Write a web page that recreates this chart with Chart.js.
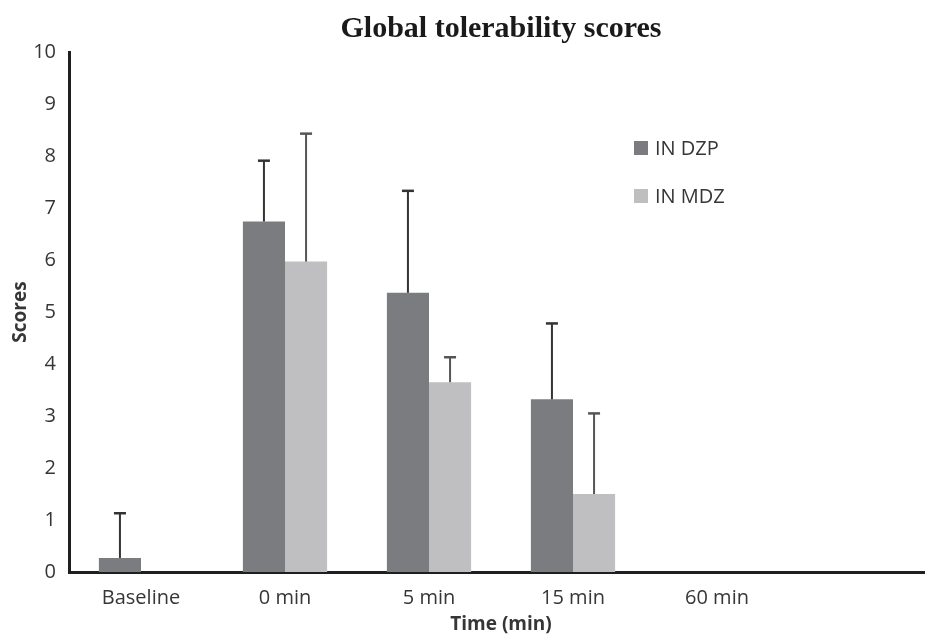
<!DOCTYPE html>
<html>
<head>
<meta charset="utf-8">
<script src="https://cdn.jsdelivr.net/npm/chart.js@4/dist/chart.umd.min.js"></script>
<style>
  html, body { margin: 0; padding: 0; background: #fff; overflow: hidden; }
</style>
</head>
<body>
<canvas id="scores" width="935" height="638"></canvas>
<script>
// time points (last slot left empty, as in the original sheet)
const timePoints = ['Baseline', '0 min', '5 min', '15 min', '60 min', ''];
const seriesNames = ['IN DZP', 'IN MDZ'];

// mean scores
const dzpMeans = [0.27, 6.74, 5.37, 3.32, 0, 0];
const mdzMeans = [0, 5.97, 3.65, 1.50, 0, 0];

// standard deviations (only the upper whisker is drawn)
const dzpSd = [0.86, 1.17, 1.96, 1.46, 0, 0];
const mdzSd = [0, 2.46, 0.48, 1.55, 0, 0];

const yTicks = [0, 1, 2, 3, 4, 5, 6, 7, 8, 9, 10];

const DZP_COLOR = '#7b7c80';
const MDZ_COLOR = '#bfbfc1';
const TEXT_COLOR = '#363636';

// upward error whiskers with a flat cap
const errorBars = {
  id: 'errorBars',
  afterDatasetsDraw(chart) {
    const ctx = chart.ctx;
    const y = chart.scales.y;
    chart.data.datasets.forEach((ds, i) => {
      const meta = chart.getDatasetMeta(i);
      meta.data.forEach((bar, j) => {
        const sd = ds.sd[j];
        if (!sd) return;
        const top = y.getPixelForValue(ds.data[j] + sd);
        ctx.save();
        ctx.strokeStyle = i === 0 ? '#333333' : '#555555';
        ctx.lineWidth = 2;
        ctx.beginPath();
        ctx.moveTo(bar.x, bar.y);
        ctx.lineTo(bar.x, top);
        ctx.stroke();
        ctx.lineWidth = 2.5;
        ctx.beginPath();
        ctx.moveTo(bar.x - 6, top);
        ctx.lineTo(bar.x + 6, top);
        ctx.stroke();
        ctx.restore();
      });
    });
  }
};

// legend sitting inside the plot, upper right
const innerLegend = {
  id: 'innerLegend',
  afterDraw(chart) {
    const ctx = chart.ctx;
    const area = chart.chartArea;
    const x0 = area.left + 565;
    const rows = [148, 196];
    ctx.save();
    ctx.font = '20px "Open Sans"';
    ctx.textBaseline = 'middle';
    chart.data.datasets.forEach((ds, i) => {
      const cy = rows[i];
      ctx.fillStyle = ds.backgroundColor;
      ctx.fillRect(x0, cy - 7, 14, 14);
      ctx.fillStyle = TEXT_COLOR;
      ctx.fillText(ds.label, x0 + 21, cy + 1);
    });
    ctx.restore();
  }
};

new Chart(document.getElementById('scores'), {
  type: 'bar',
  data: {
    labels: timePoints,
    datasets: [
      { label: seriesNames[0], data: dzpMeans, sd: dzpSd, backgroundColor: DZP_COLOR },
      { label: seriesNames[1], data: mdzMeans, sd: mdzSd, backgroundColor: MDZ_COLOR }
    ]
  },
  options: {
    responsive: false,
    animation: false,
    categoryPercentage: 0.585,
    barPercentage: 1,
    layout: { padding: { left: 0, right: 2, top: 0, bottom: 0 } },
    plugins: {
      legend: { display: false },
      tooltip: { enabled: false },
      title: {
        display: true,
        fullSize: false,
        text: 'Global tolerability scores',
        color: '#1a1a1a',
        font: { family: '"Liberation Serif", serif', size: 30, weight: 'bold' },
        padding: { top: 11, bottom: 5 }
      }
    },
    scales: {
      x: {
        grid: { display: false, drawTicks: false },
        border: { display: true, color: '#1f1f1f', width: 3 },
        ticks: {
          color: TEXT_COLOR,
          padding: 14,
          maxRotation: 0,
          font: { family: '"Open Sans"', size: 20 }
        },
        title: {
          display: true,
          text: 'Time (min)',
          color: TEXT_COLOR,
          padding: { top: 0, bottom: 2 },
          font: { family: '"Open Sans"', size: 19, weight: 'bold' }
        },
        afterFit(scale) { scale.height = 66; }
      },
      y: {
        min: 0,
        max: 10,
        grid: { display: false, drawTicks: false },
        border: { display: true, color: '#1f1f1f', width: 3 },
        afterBuildTicks(scale) { scale.ticks = yTicks.map(v => ({ value: v })); },
        ticks: {
          color: TEXT_COLOR,
          padding: 13,
          font: { family: '"Open Sans"', size: 20 }
        },
        title: {
          display: true,
          text: 'Scores',
          color: TEXT_COLOR,
          padding: { top: 9, bottom: 0 },
          font: { family: '"Open Sans"', size: 19, weight: 'bold' }
        },
        afterFit(scale) { scale.width = 69; }
      }
    }
  },
  plugins: [errorBars, innerLegend]
});
</script>
</body>
</html>
